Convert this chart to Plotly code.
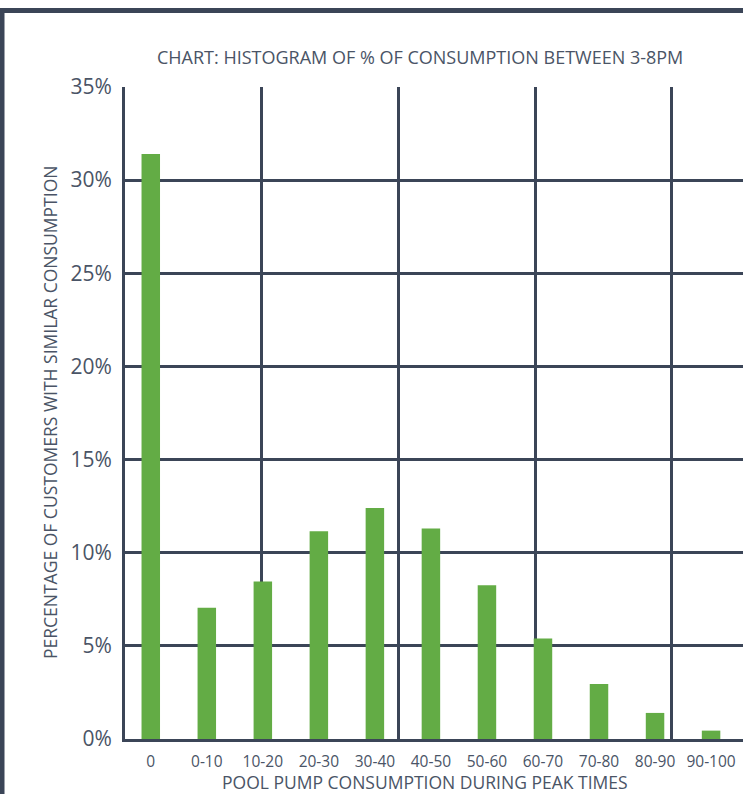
import plotly.graph_objects as go

categories = ["0", "0-10", "10-20", "20-30", "30-40", "40-50", "50-60", "60-70", "70-80", "80-90", "90-100"]
values = [31.4, 7.05, 8.45, 11.15, 12.4, 11.3, 8.25, 5.4, 2.95, 1.4, 0.45]
y_ticks = [0, 5, 10, 15, 20, 25, 30, 35]

GRID = "#3b4557"
TEXT = "#4a5466"
FONT = "Open Sans"

fig = go.Figure()
fig.add_trace(go.Bar(x=categories, y=values, marker_color="#63ac45",
                     marker_line_width=0, width=0.33, hoverinfo="x+y"))
# invisible helper trace for the overlay grid axis
fig.add_trace(go.Scatter(x=[0], y=[0], xaxis="x2", mode="markers",
                         marker_opacity=0, showlegend=False, hoverinfo="skip"))

fig.update_layout(
    width=743, height=794,
    margin=dict(l=125, r=0, t=87, b=55),
    paper_bgcolor="white", plot_bgcolor="white",
    showlegend=False,
    font=dict(family=FONT, color=TEXT),
    xaxis=dict(type="category", range=[-0.46, 10.57], showgrid=False,
               showline=True, linecolor=GRID, linewidth=3,
               ticks="outside", ticklen=6, tickcolor="rgba(0,0,0,0)",
               tickfont=dict(size=15.5, color=TEXT), zeroline=False),
    xaxis2=dict(overlaying="x", range=[0, 4.52], dtick=1, tick0=0,
                showgrid=True, gridcolor=GRID, gridwidth=2.5,
                showticklabels=False, ticks="", zeroline=False, showline=False),
    yaxis=dict(range=[0, 35], tickvals=y_ticks, ticktext=[f"{v}%" for v in y_ticks],
               showgrid=True, gridcolor=GRID, gridwidth=2.5,
               showline=True, linecolor=GRID, linewidth=3, zeroline=False,
               ticks="outside", ticklen=6, tickcolor="rgba(0,0,0,0)",
               tickfont=dict(size=21, color=TEXT)),
    bargap=0.67,
)

fig.add_annotation(text="CHART: HISTOGRAM OF % OF CONSUMPTION BETWEEN 3-8PM",
                   xref="paper", yref="paper", x=0.477, y=1.0, yshift=30,
                   showarrow=False, font=dict(size=18, color=TEXT),
                   xanchor="center", yanchor="middle")
fig.add_annotation(text="POOL PUMP CONSUMPTION DURING PEAK TIMES",
                   xref="paper", yref="paper", x=0.486, y=0, yshift=-43,
                   showarrow=False, font=dict(size=17.5, color=TEXT),
                   xanchor="center", yanchor="middle")
fig.add_annotation(text="PERCENTAGE OF CUSTOMERS WITH SIMILAR CONSUMPTION",
                   xref="paper", yref="paper", x=0, xshift=-75, y=0.5, textangle=-90,
                   showarrow=False, font=dict(size=17.5, color=TEXT),
                   xanchor="center", yanchor="middle")

# outer frame
fig.add_shape(type="rect", xref="paper", yref="paper",
              x0=-123 / 618, x1=1.2, y0=-0.2, y1=(739 - 10.5) / 652,
              line=dict(color=GRID, width=5), fillcolor="rgba(0,0,0,0)", layer="below")

fig.write_html("out.html", config={"displayModeBar": False},
               post_script="document.body.style.margin='0';document.body.style.overflow='hidden';")
